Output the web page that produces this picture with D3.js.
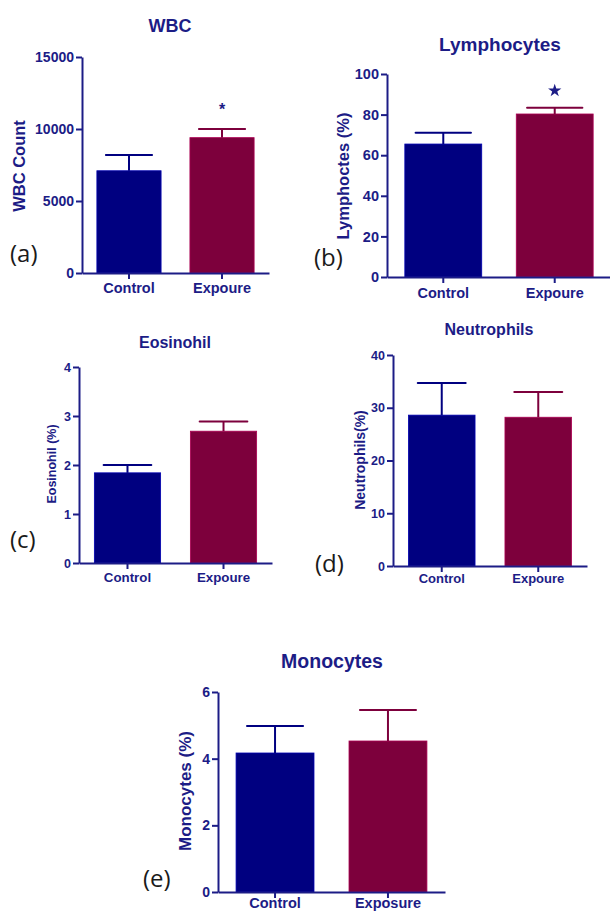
<!DOCTYPE html>
<html>
<head>
<meta charset="utf-8">
<script src="https://cdn.jsdelivr.net/npm/d3@7"></script>
<style>
  body { margin: 0; background: #fff; }
  svg { display: block; }
</style>
</head>
<body>
<div class="chart"></div>
<script>
// groups (the paper spells it "Expoure" on four of the panels)
var groups = ['Control', 'Expoure'];
var groupsE = ['Control', 'Exposure'];

// means and error (upper bar only)
var wbcMean = [7100, 9400];
var wbcErr = [1100, 600];
var wbcTicks = [0, 5000, 10000, 15000];

var lymMean = [65.5, 80.3];
var lymErr = [5.5, 3.1];
var lymTicks = [0, 20, 40, 60, 80, 100];

var eosMean = [1.84, 2.69];
var eosErr = [0.16, 0.2];
var eosTicks = [0, 1, 2, 3, 4];

var neuMean = [28.6, 28.2];
var neuErr = [6.1, 4.8];
var neuTicks = [0, 10, 20, 30, 40];

var monMean = [4.17, 4.53];
var monErr = [0.81, 0.93];
var monTicks = [0, 2, 4, 6];

var navy = '#000080';
var maroon = '#7d003c';
var ink = '#1c1c86';
var font = '"Liberation Sans", Arial, sans-serif';

var svg = d3.select('.chart')
  .append('svg')
  .attr('width', 610)
  .attr('height', 912);

// layout of each panel
var panels = [
  {letter: '(a)', title: 'WBC', ylabel: 'WBC Count', cats: groups, mean: wbcMean, err: wbcErr, ticks: wbcTicks,
   left: 82, right: 269, top: 57, bottom: 273, tickFont: 14, catFont: 14.5, titleFont: 18, ylabFont: 16.5,
   titleX: 170, titleY: 32, ylabX: 19, ylabY: 166, catY: 293, letterX: 10, letterY: 262, mark: 'asterisk'},
  {letter: '(b)', title: 'Lymphocytes', ylabel: 'Lymphoctes (%)', cats: groups, mean: lymMean, err: lymErr, ticks: lymTicks,
   left: 387, right: 611, top: 74, bottom: 277, tickFont: 14.5, catFont: 14.5, titleFont: 19, ylabFont: 16.5,
   titleX: 500, titleY: 51, ylabX: 343, ylabY: 176, catY: 298, letterX: 314, letterY: 266, mark: 'star'},
  {letter: '(c)', title: 'Eosinohil', ylabel: 'Eosinohil (%)', cats: groups, mean: eosMean, err: eosErr, ticks: eosTicks,
   left: 79, right: 272, top: 367, bottom: 563, tickFont: 12.5, catFont: 13.3, titleFont: 16, ylabFont: 12.5,
   titleX: 175, titleY: 348, ylabX: 52, ylabY: 464, catY: 582, letterX: 10, letterY: 548},
  {letter: '(d)', title: 'Neutrophils', ylabel: 'Neutrophils(%)', cats: groups, mean: neuMean, err: neuErr, ticks: neuTicks,
   left: 393, right: 587, top: 355, bottom: 566, tickFont: 12.5, catFont: 13, titleFont: 16, ylabFont: 14,
   titleX: 489, titleY: 335, ylabX: 360, ylabY: 460, catY: 583, letterX: 315, letterY: 572},
  {letter: '(e)', title: 'Monocytes', ylabel: 'Monocytes (%)', cats: groupsE, mean: monMean, err: monErr, ticks: monTicks,
   left: 218, right: 445, top: 692, bottom: 892, tickFont: 14, catFont: 14.5, titleFont: 19.5, ylabFont: 17,
   titleX: 332, titleY: 668, ylabX: 185, ylabY: 791, catY: 908, letterX: 143, letterY: 887}
];

panels.forEach(drawPanel);

function drawPanel(p) {
  var rows = p.cats.map(function(c, i) {
    return {name: c, mean: p.mean[i], err: p.err[i], color: i === 0 ? navy : maroon};
  });

  var x = d3.scaleBand()
    .domain(p.cats)
    .range([p.left, p.right])
    .paddingInner(0.31)
    .paddingOuter(0.16);

  var y = d3.scaleLinear()
    .domain([0, p.ticks[p.ticks.length - 1]])
    .range([p.bottom, p.top]);

  var g = svg.append('g');

  // bars
  g.selectAll('rect.bar')
    .data(rows)
    .enter()
    .append('rect')
      .attr('class', 'bar')
      .attr('x', d => x(d.name))
      .attr('y', d => y(d.mean))
      .attr('width', x.bandwidth())
      .attr('height', d => p.bottom - y(d.mean))
      .attr('fill', d => d.color)
      .attr('stroke', d => d3.color(d.color).brighter(0.9))
      .attr('stroke-width', 0.8);

  // error bars, upper half only
  var cap = x.bandwidth() * 0.36;
  var eb = g.selectAll('g.err')
    .data(rows)
    .enter()
    .append('g')
      .attr('class', 'err')
      .attr('stroke', d => d.color)
      .attr('stroke-width', 2);
  eb.append('line')
    .attr('x1', d => x(d.name) + x.bandwidth() / 2)
    .attr('x2', d => x(d.name) + x.bandwidth() / 2)
    .attr('y1', d => y(d.mean))
    .attr('y2', d => y(d.mean + d.err));
  eb.append('line')
    .attr('stroke-linecap', 'round')
    .attr('x1', d => x(d.name) + x.bandwidth() / 2 - cap)
    .attr('x2', d => x(d.name) + x.bandwidth() / 2 + cap)
    .attr('y1', d => y(d.mean + d.err))
    .attr('y2', d => y(d.mean + d.err));

  // axes
  var yAxis = d3.axisLeft(y)
    .tickValues(p.ticks)
    .tickFormat(d3.format('d'))
    .tickSize(6)
    .tickSizeOuter(0)
    .tickPadding(2);
  var xAxis = d3.axisBottom(x)
    .tickSize(6)
    .tickSizeOuter(0)
    .tickPadding(4);

  var ya = g.append('g')
    .attr('transform', 'translate(' + p.left + ',0)')
    .call(yAxis);
  ya.selectAll('text')
    .style('font-size', p.tickFont + 'px');

  var xa = g.append('g')
    .attr('transform', 'translate(0,' + p.bottom + ')')
    .call(xAxis);
  xa.selectAll('text')
    .attr('dy', null)
    .attr('y', p.catY - p.bottom)
    .style('font-size', p.catFont + 'px');

  g.selectAll('.domain, .tick line')
    .attr('stroke', ink)
    .attr('stroke-width', 2);
  g.selectAll('.tick text')
    .attr('fill', ink)
    .style('font-family', font)
    .style('font-weight', 'bold');

  // title
  g.append('text')
    .attr('x', p.titleX)
    .attr('y', p.titleY)
    .attr('text-anchor', 'middle')
    .attr('fill', ink)
    .style('font-family', font)
    .style('font-weight', 'bold')
    .style('font-size', p.titleFont + 'px')
    .text(p.title);

  // y label
  g.append('text')
    .attr('transform', 'translate(' + p.ylabX + ',' + p.ylabY + ') rotate(-90)')
    .attr('text-anchor', 'middle')
    .attr('dy', '0.35em')
    .attr('fill', ink)
    .style('font-family', font)
    .style('font-weight', 'bold')
    .style('font-size', p.ylabFont + 'px')
    .text(p.ylabel);

  // panel letter
  g.append('text')
    .attr('x', p.letterX)
    .attr('y', p.letterY)
    .attr('fill', '#1a1a1a')
    .style('font-family', '"Open Sans", Carlito, sans-serif')
    .style('font-size', '24px')
    .text(p.letter);

  // significance mark over the exposure bar
  var top = rows[1];
  var cx = x(top.name) + x.bandwidth() / 2;
  if (p.mark === 'asterisk') {
    g.append('text')
      .attr('x', cx)
      .attr('y', y(top.mean + top.err) - 14)
      .attr('text-anchor', 'middle')
      .attr('fill', ink)
      .style('font-family', font)
      .style('font-weight', 'bold')
      .style('font-size', '16px')
      .text('*');
  } else if (p.mark === 'star') {
    g.append('path')
      .attr('d', d3.symbol(d3.symbolStar).size(55))
      .attr('transform', 'translate(' + cx + ',' + (y(top.mean + top.err) - 17) + ')')
      .attr('fill', ink);
  }
}
</script>
</body>
</html>
